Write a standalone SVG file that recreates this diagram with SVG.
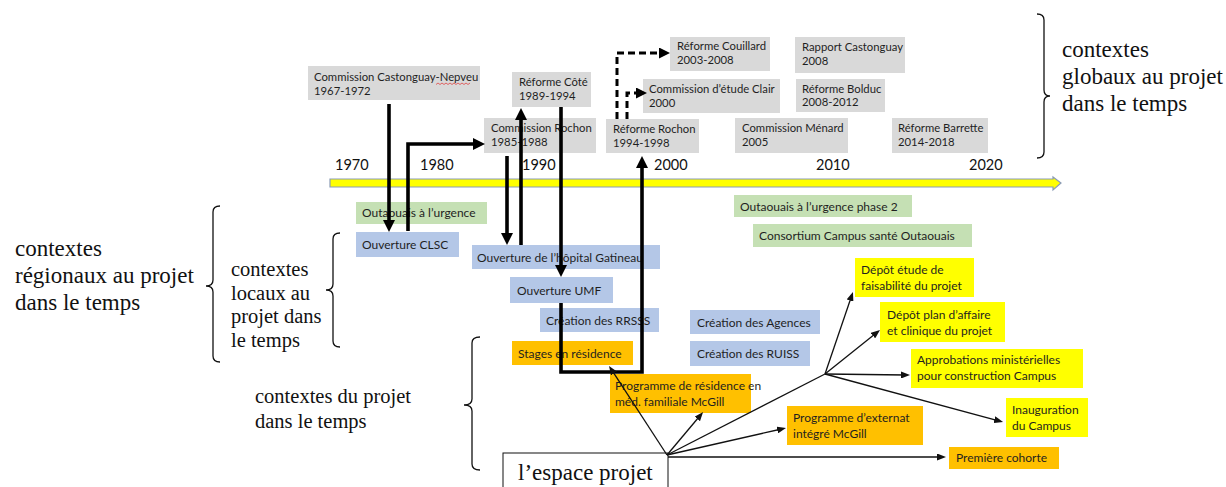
<svg xmlns="http://www.w3.org/2000/svg" width="1226" height="487" viewBox="0 0 1226 487">
  <style>
    .box-grey { fill: #d9d9d9; }
    .box-blue { fill: #b4c7e7; }
    .box-green { fill: #c5e0b4; }
    .box-orange { fill: #ffc000; }
    .box-yellow { fill: #ffff00; }
    .lbl { font-family: Lato, "Liberation Sans", sans-serif; font-size: 12px; fill: #1f1f1f; }
    .lbl-s { font-family: Lato, "Liberation Sans", sans-serif; font-size: 11.3px; fill: #1f1f1f; }
    .yr { font-family: Lato, "Liberation Sans", sans-serif; font-size: 14.5px; fill: #111; }
    .ctx { font-family: "Liberation Serif", serif; font-size: 23px; fill: #111; }
    .ctx-m { font-family: "Liberation Serif", serif; font-size: 20.5px; fill: #111; }
    .brace { fill: none; stroke: #111; stroke-width: 1.3; }
    .thick { fill: none; stroke: #000; stroke-width: 3.6; stroke-linejoin: miter; }
    .dash { fill: none; stroke: #000; stroke-width: 3; stroke-dasharray: 7 4; }
    .thin { fill: none; stroke: #111; stroke-width: 1.3; }
  </style>
  <defs>
    <marker id="ah-thick" markerUnits="userSpaceOnUse" viewBox="0 0 12 12" markerWidth="12" markerHeight="12" refX="6" refY="6" orient="auto">
      <path d="M0,0 L12,6 L0,12 Z" fill="#000"/>
    </marker>
    <marker id="ah-dash" markerUnits="userSpaceOnUse" viewBox="0 0 11 11" markerWidth="11" markerHeight="11" refX="5" refY="5.5" orient="auto">
      <path d="M0,0 L11,5.5 L0,11 Z" fill="#000"/>
    </marker>
    <marker id="ah-thin" markerUnits="userSpaceOnUse" viewBox="0 0 9 7" markerWidth="9" markerHeight="7" refX="4.5" refY="3.5" orient="auto">
      <path d="M0,0 L9,3.5 L0,7 Z" fill="#111"/>
    </marker>
  </defs>

  <rect width="1226" height="487" fill="#ffffff"/>

  <!-- time axis -->
  <g id="timeline">
    <path d="M330,179 H1053 V177 L1061,183 L1053,190 V187 H330 Z" fill="#ffff00" stroke="#8a9bb5" stroke-width="1.2"/>
    <text class="yr" x="335" y="170">1970</text>
    <text class="yr" x="420" y="170">1980</text>
    <text class="yr" x="522" y="170">1990</text>
    <text class="yr" x="654" y="170">2000</text>
    <text class="yr" x="816" y="170">2010</text>
    <text class="yr" x="969" y="170">2020</text>
  </g>

  <!-- context labels and braces -->
  <g id="ctx-global">
    <path class="brace" d="M1037,14 Q1044,14 1044,20 V90 Q1044,96 1050,96 Q1044,96 1044,102 V152 Q1044,158 1037,158"/>
    <text class="ctx" x="1062" y="57">contextes</text>
    <text class="ctx" x="1062" y="84">globaux au projet</text>
    <text class="ctx" x="1062" y="111">dans le temps</text>
  </g>
  <g id="ctx-regional">
    <path class="brace" d="M220,206 Q213,206 213,212 V280 Q213,286 206,286 Q213,286 213,292 V356 Q213,362 220,362"/>
    <text class="ctx" x="15" y="256">contextes</text>
    <text class="ctx" x="15" y="283">régionaux au projet</text>
    <text class="ctx" x="15" y="310">dans le temps</text>
  </g>
  <g id="ctx-local">
    <path class="brace" d="M340,233 Q333,233 333,239 V284 Q333,290 326,290 Q333,290 333,296 V341 Q333,347 340,347"/>
    <text class="ctx-m" x="231" y="276">contextes</text>
    <text class="ctx-m" x="231" y="300">locaux au</text>
    <text class="ctx-m" x="231" y="323">projet dans</text>
    <text class="ctx-m" x="231" y="347">le temps</text>
  </g>
  <g id="ctx-projet">
    <path class="brace" d="M480,337 Q472,337 472,343 V399 Q472,405 464,405 Q472,405 472,411 V464 Q472,470 480,470"/>
    <text class="ctx-m" x="255" y="403">contextes du projet</text>
    <text class="ctx-m" x="255" y="428">dans le temps</text>
  </g>

  <!-- global events -->
  <g id="n-castonguay-nepveu">
    <rect class="box-grey" x="308" y="66" width="172" height="34"/>
    <text class="lbl-s" x="314" y="81">Commission Castonguay-Nepveu</text>
    <text class="lbl-s" x="314" y="95">1967-1972</text>
    <path d="M436,84.5 l2,-1.5 l2,1.5 l2,-1.5 l2,1.5 l2,-1.5 l2,1.5 l2,-1.5 l2,1.5 l2,-1.5 l2,1.5 l2,-1.5 l2,1.5 l2,-1.5 l2,1.5 l2,-1.5 l2,1.5 l2,-1.5" fill="none" stroke="#e03030" stroke-width="0.7"/>
  </g>
  <g id="n-reforme-cote">
    <rect class="box-grey" x="512" y="72" width="79" height="35"/>
    <text class="lbl-s" x="519" y="86">Réforme Côté</text>
    <text class="lbl-s" x="519" y="100">1989-1994</text>
  </g>
  <g id="n-commission-rochon">
    <rect class="box-grey" x="484" y="118" width="112" height="35"/>
    <text class="lbl-s" x="491" y="132">Commission Rochon</text>
    <text class="lbl-s" x="491" y="146">1985-1988</text>
  </g>
  <g id="n-reforme-rochon">
    <rect class="box-grey" x="606" y="119" width="93" height="34"/>
    <text class="lbl-s" x="613" y="133">Réforme Rochon</text>
    <text class="lbl-s" x="613" y="147">1994-1998</text>
  </g>
  <g id="n-reforme-couillard">
    <rect class="box-grey" x="670" y="37" width="100" height="34"/>
    <text class="lbl-s" x="677" y="50">Réforme Couillard</text>
    <text class="lbl-s" x="677" y="64">2003-2008</text>
  </g>
  <g id="n-commission-clair">
    <rect class="box-grey" x="643" y="79" width="137" height="34"/>
    <text class="lbl-s" x="649" y="93">Commission d’étude Clair</text>
    <text class="lbl-s" x="649" y="107">2000</text>
  </g>
  <g id="n-rapport-castonguay">
    <rect class="box-grey" x="795" y="37" width="110" height="36"/>
    <text class="lbl-s" x="802" y="51">Rapport Castonguay</text>
    <text class="lbl-s" x="802" y="65">2008</text>
  </g>
  <g id="n-reforme-bolduc">
    <rect class="box-grey" x="796" y="79" width="89" height="33"/>
    <text class="lbl-s" x="802" y="93">Réforme Bolduc</text>
    <text class="lbl-s" x="802" y="106">2008-2012</text>
  </g>
  <g id="n-commission-menard">
    <rect class="box-grey" x="735" y="118" width="113" height="35"/>
    <text class="lbl-s" x="742" y="132">Commission Ménard</text>
    <text class="lbl-s" x="742" y="146">2005</text>
  </g>
  <g id="n-reforme-barrette">
    <rect class="box-grey" x="892" y="118" width="96" height="35"/>
    <text class="lbl-s" x="898" y="132">Réforme Barrette</text>
    <text class="lbl-s" x="898" y="146">2014-2018</text>
  </g>

  <!-- regional and local events -->
  <g id="n-outaouais-urgence">
    <rect class="box-green" x="356" y="202" width="131" height="22"/>
    <text class="lbl" x="362" y="217">Outaouais à l’urgence</text>
  </g>
  <g id="n-ouverture-clsc">
    <rect class="box-blue" x="356" y="232" width="103" height="25"/>
    <text class="lbl" x="362" y="249">Ouverture CLSC</text>
  </g>
  <g id="n-hopital-gatineau">
    <rect class="box-blue" x="472" y="245" width="188" height="24"/>
    <text class="lbl" x="477" y="262">Ouverture de l’hôpital Gatineau</text>
  </g>
  <g id="n-ouverture-umf">
    <rect class="box-blue" x="510" y="277" width="103" height="26"/>
    <text class="lbl" x="517" y="295">Ouverture UMF</text>
  </g>
  <g id="n-creation-rrsss">
    <rect class="box-blue" x="540" y="308" width="119" height="24"/>
    <text class="lbl" x="546" y="325">Création des RRSSS</text>
  </g>
  <g id="n-creation-agences">
    <rect class="box-blue" x="690" y="310" width="130" height="24"/>
    <text class="lbl" x="697" y="327">Création des Agences</text>
  </g>
  <g id="n-creation-ruiss">
    <rect class="box-blue" x="690" y="341" width="120" height="25"/>
    <text class="lbl" x="697" y="358">Création des RUISS</text>
  </g>
  <g id="n-outaouais-urgence-2">
    <rect class="box-green" x="734" y="195" width="178" height="22"/>
    <text class="lbl" x="740" y="211">Outaouais à l’urgence phase 2</text>
  </g>
  <g id="n-consortium">
    <rect class="box-green" x="753" y="224" width="219" height="23"/>
    <text class="lbl" x="759" y="240">Consortium Campus santé Outaouais</text>
  </g>

  <!-- project events -->
  <g id="n-stages-residence">
    <rect class="box-orange" x="512" y="341" width="121" height="24"/>
    <text class="lbl" x="518" y="358">Stages en résidence</text>
  </g>
  <g id="n-programme-residence">
    <rect class="box-orange" x="610" y="374" width="141" height="39"/>
    <text class="lbl" x="615" y="390">Programme de résidence en</text>
    <text class="lbl" x="615" y="406">méd. familiale McGill</text>
  </g>
  <g id="n-programme-externat">
    <rect class="box-orange" x="787" y="406" width="136" height="39"/>
    <text class="lbl" x="793" y="422">Programme d’externat</text>
    <text class="lbl" x="793" y="438">intégré McGill</text>
  </g>
  <g id="n-premiere-cohorte">
    <rect class="box-orange" x="949" y="447" width="110" height="22"/>
    <text class="lbl" x="956" y="462">Première cohorte</text>
  </g>
  <g id="n-depot-etude">
    <rect class="box-yellow" x="855" y="258" width="119" height="39"/>
    <text class="lbl" x="861" y="274">Dépôt étude de</text>
    <text class="lbl" x="861" y="290">faisabilité du projet</text>
  </g>
  <g id="n-depot-plan">
    <rect class="box-yellow" x="880" y="302" width="125" height="40"/>
    <text class="lbl" x="887" y="319">Dépôt plan d’affaire</text>
    <text class="lbl" x="887" y="335">et clinique du projet</text>
  </g>
  <g id="n-approbations">
    <rect class="box-yellow" x="911" y="349" width="172" height="39"/>
    <text class="lbl" x="917" y="364">Approbations ministérielles</text>
    <text class="lbl" x="917" y="380">pour construction Campus</text>
  </g>
  <g id="n-inauguration">
    <rect class="box-yellow" x="1006" y="398" width="82" height="39"/>
    <text class="lbl" x="1012" y="414">Inauguration</text>
    <text class="lbl" x="1012" y="430">du Campus</text>
  </g>
  <g id="n-espace-projet">
    <rect x="503" y="453" width="165" height="40" fill="#fff" stroke="#111" stroke-width="1"/>
    <text class="ctx" x="518" y="480">l’espace projet</text>
  </g>

  <!-- connectors -->
  <g id="connectors">
    <path class="thick" d="M389,104 L389,226" marker-end="url(#ah-thick)"/>
    <path class="thick" d="M408,231 L408,144 L479,144" marker-end="url(#ah-thick)"/>
    <path class="thick" d="M507,156 L507,239" marker-end="url(#ah-thick)"/>
    <path class="thick" d="M521,245 L521,114" marker-end="url(#ah-thick)"/>
    <path class="thick" d="M561,107 L561,271" marker-end="url(#ah-thick)"/>
    <path class="thick" d="M561,303 L561,372 L642,372 L642,162" marker-end="url(#ah-thick)"/>

    <path class="dash" d="M617,119 L617,53 L664,53" marker-end="url(#ah-dash)"/>
    <path class="dash" d="M627,119 L627,93 L641,93" marker-end="url(#ah-dash)"/>

    <path class="thin" d="M667,455 L611.5,369.7" marker-end="url(#ah-thin)"/>
    <path class="thin" d="M667,455 L700.2,415.5" marker-end="url(#ah-thin)"/>
    <path class="thin" d="M667,455 L825,374"/>
    <path class="thin" d="M667,455 L781.6,429" marker-end="url(#ah-thin)"/>
    <path class="thin" d="M668,457 L941.5,457" marker-end="url(#ah-thin)"/>
    <path class="thin" d="M825,374 L851.5,296.3" marker-end="url(#ah-thin)"/>
    <path class="thin" d="M825,374 L876.5,332.8" marker-end="url(#ah-thin)"/>
    <path class="thin" d="M825,374 L905.5,375" marker-end="url(#ah-thin)"/>
    <path class="thin" d="M825,374 L998.7,420.8" marker-end="url(#ah-thin)"/>
  </g>
</svg>
